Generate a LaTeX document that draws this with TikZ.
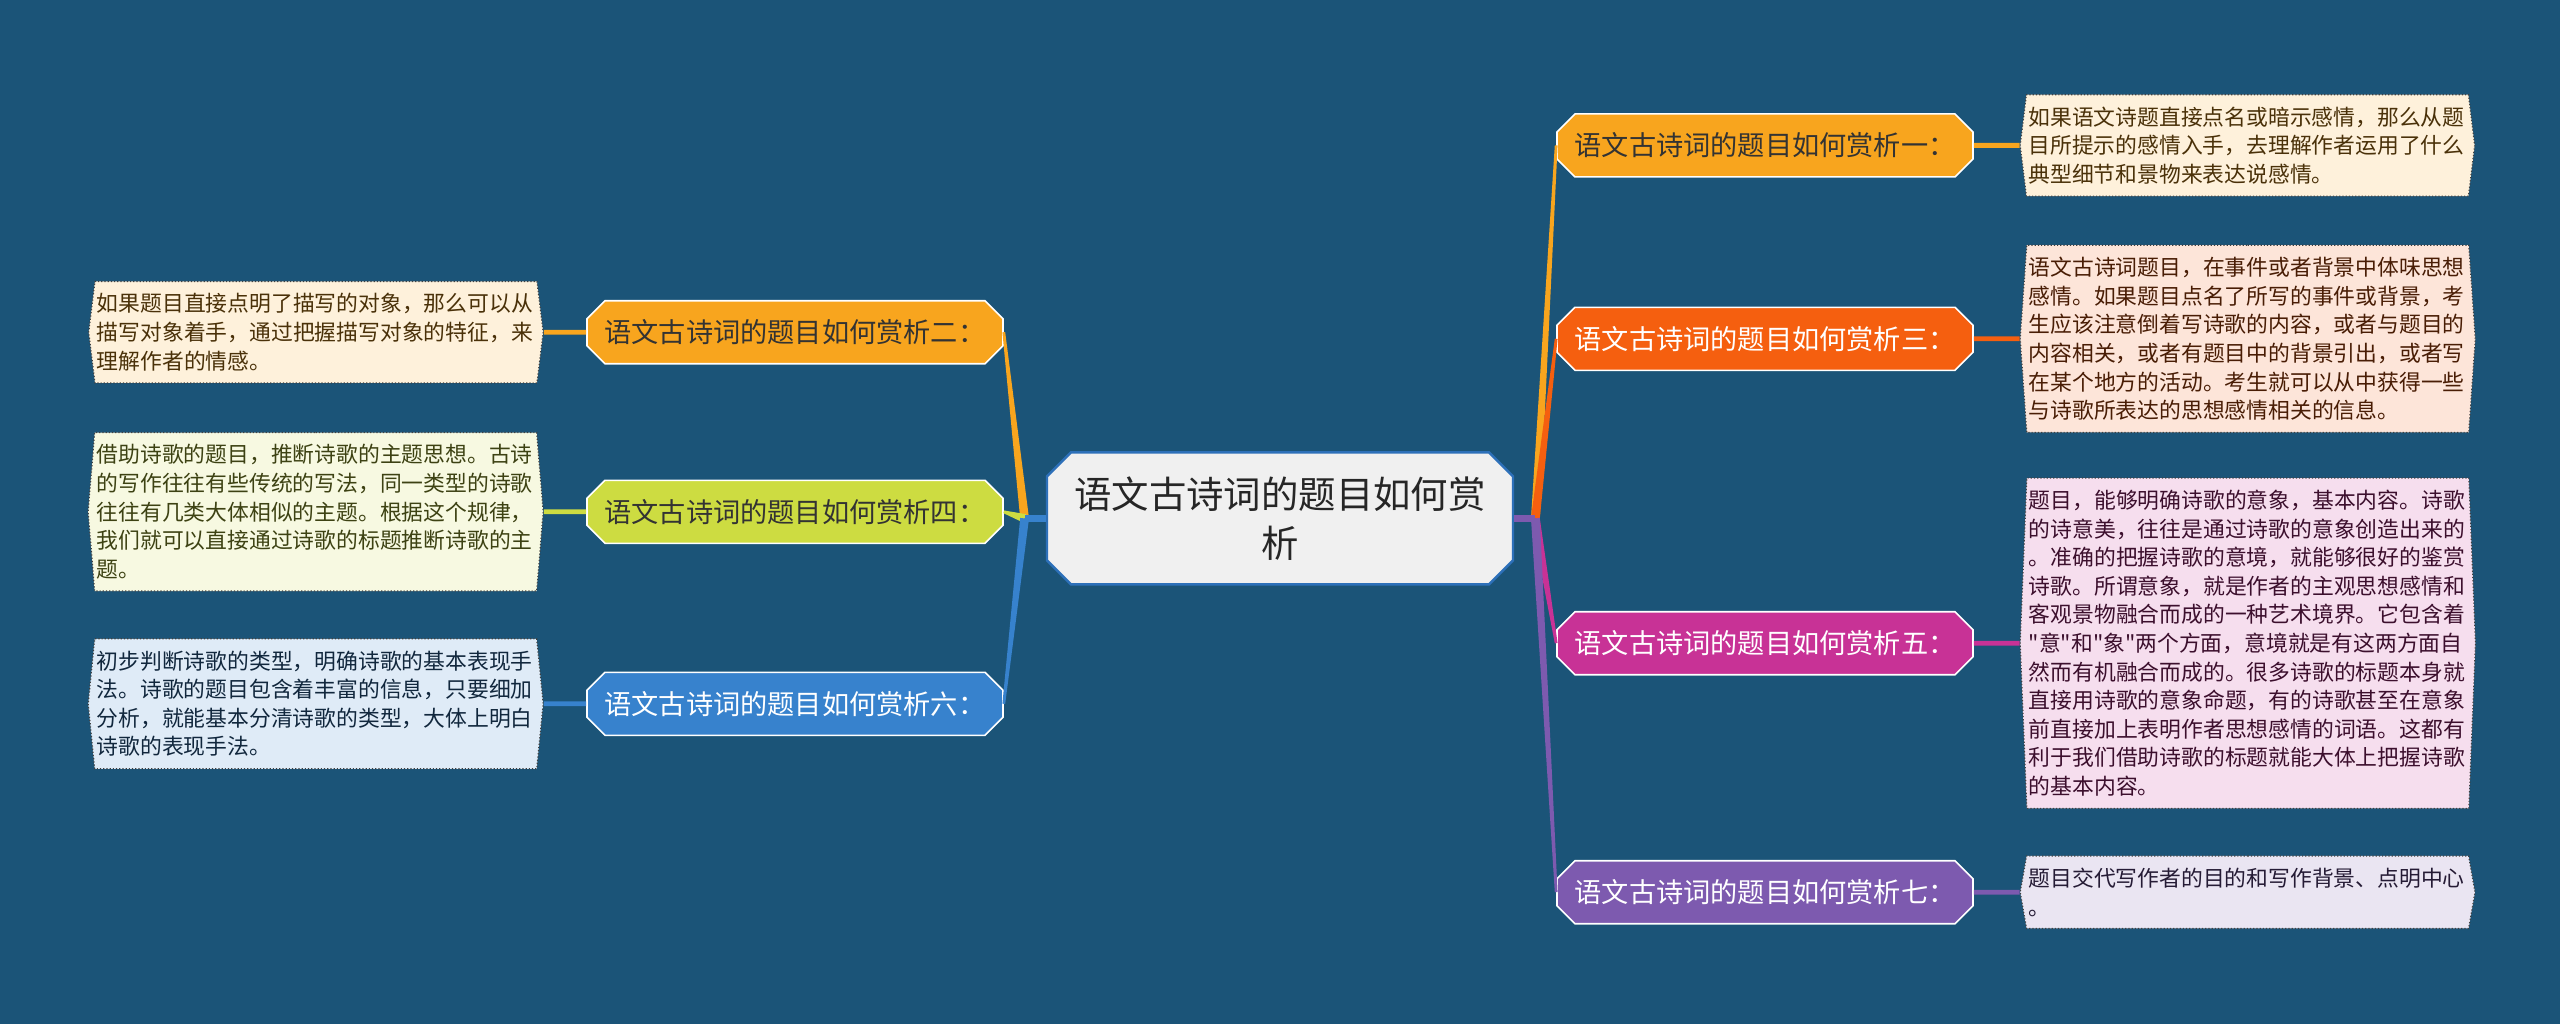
\documentclass[tikz,border=0pt]{standalone}
\usepackage{fontspec}
\setmainfont{Noto Sans CJK SC}
\newfontfamily\plaincjk{Noto Sans CJK SC}
\usepackage{tikz}
\usetikzlibrary{calc,positioning,shapes.misc,shapes.symbols}
\definecolor{pagebg}{RGB}{27,84,120}
\definecolor{hubfill}{RGB}{240,240,240}
\definecolor{hubdraw}{RGB}{45,112,185}
\definecolor{amber}{RGB}{248,165,30}
\definecolor{flame}{RGB}{245,95,15}
\definecolor{orchid}{RGB}{200,50,150}
\definecolor{grape}{RGB}{125,90,175}
\definecolor{citron}{RGB}{205,220,65}
\definecolor{azure}{RGB}{55,130,205}
\newcommand{\HubFont}{\fontsize{18.7}{24.5}\selectfont}
\newcommand{\BranchFont}{\fontsize{13.6}{16}\selectfont}
\newcommand{\NoteFont}{\plaincjk\fontsize{10.9}{14.3}\selectfont}
\tikzset{
  hub/.style={chamfered rectangle, chamfered rectangle sep=6pt, fill=hubfill, draw=hubdraw, line width=1.2pt, minimum width=233pt, minimum height=66pt, align=center, font=\HubFont, text=black!85},
  branch/.style={chamfered rectangle, chamfered rectangle sep=4.5pt, fill=#1, draw=white, line width=0.8pt, minimum width=208pt, minimum height=31.5pt, font=\BranchFont, inner sep=0pt},
  note/.style={signal, signal to=east and west, fill=#1!16, draw=black!75, densely dotted, line width=0.6pt, text width=219pt, align=left, font=\NoteFont, text=#1!30!black, inner xsep=1pt, inner ysep=6pt},
  twig/.style={draw=#1, line width=2.4pt},
  stub/.style={draw=#1, line width=3.5pt}
}

\begin{document}
\begin{tikzpicture}
  \fill[pagebg, use as bounding box] (-640pt,-252.6pt) rectangle (640pt,259.2pt);
  \node[hub] (hub) at (0,0) {语文古诗词的题目如何赏\\析};
  % right side
  \node[branch=amber, text=black!80] (b1) at (242.5pt,186.5pt) {语文古诗词的题目如何赏析一：};
  \node[branch=flame, text=white] (b3) at (242.5pt,89.8pt) {语文古诗词的题目如何赏析三：};
  \node[branch=orchid, text=white] (b5) at (242.5pt,-62.4pt) {语文古诗词的题目如何赏析五：};
  \node[branch=grape, text=white] (b7) at (242.5pt,-186.9pt) {语文古诗词的题目如何赏析七：};
  % left side
  \node[branch=amber, text=black!80] (b2) at (-242.5pt,93.1pt) {语文古诗词的题目如何赏析二：};
  \node[branch=citron, text=black!80] (b4) at (-242.5pt,3.3pt) {语文古诗词的题目如何赏析四：};
  \node[branch=azure, text=white] (b6) at (-242.5pt,-92.7pt) {语文古诗词的题目如何赏析六：};
  % notes
  \node[note=amber, signal pointer angle=166, right=22.9pt of b1] (n1) {如果语文诗题直接点名或暗示感情，那么从题\\目所提示的感情入手，去理解作者运用了什么\\典型细节和景物来表达说感情。};
  \node[note=flame, signal pointer angle=172, right=22.9pt of b3] (n3) {语文古诗词题目，在事件或者背景中体味思想\\感情。如果题目点名了所写的事件或背景，考\\生应该注意倒着写诗歌的内容，或者与题目的\\内容相关，或者有题目中的背景引出，或者写\\在某个地方的活动。考生就可以从中获得一些\\与诗歌所表达的思想感情相关的信息。};
  \node[note=orchid, signal pointer angle=175.4, right=22.9pt of b5] (n5) {题目，能够明确诗歌的意象，基本内容。诗歌\\的诗意美，往往是通过诗歌的意象创造出来的\\。准确的把握诗歌的意境，就能够很好的鉴赏\\诗歌。所谓意象，就是作者的主观思想感情和\\客观景物融合而成的一种艺术境界。它包含着\\"意"和"象"两个方面，意境就是有这两方面自\\然而有机融合而成的。很多诗歌的标题本身就\\直接用诗歌的意象命题，有的诗歌甚至在意象\\前直接加上表明作者思想感情的词语。这都有\\利于我们借助诗歌的标题就能大体上把握诗歌\\的基本内容。};
  \node[note=grape, signal pointer angle=160, right=22.9pt of b7] (n7) {题目交代写作者的目的和写作背景、点明中心\\。};
  \node[note=amber, signal pointer angle=166, left=21.2pt of b2] (n2) {如果题目直接点明了描写的对象，那么可以从\\描写对象着手，通过把握描写对象的特征，来\\理解作者的情感。};
  \node[note=citron, signal pointer angle=170.6, left=21.2pt of b4] (n4) {借助诗歌的题目，推断诗歌的主题思想。古诗\\的写作往往有些传统的写法，同一类型的诗歌\\往往有几类大体相似的主题。根据这个规律，\\我们就可以直接通过诗歌的标题推断诗歌的主\\题。};
  \node[note=azure, signal pointer angle=168.6, left=21.2pt of b6] (n6) {初步判断诗歌的类型，明确诗歌的基本表现手\\法。诗歌的题目包含着丰富的信息，只要细加\\分析，就能基本分清诗歌的类型，大体上明白\\诗歌的表现手法。};
  \coordinate (hubR) at ($(hub.east)+(10.6pt,0)$);
  \coordinate (hubL) at ($(hub.west)+(-10.6pt,0)$);
  % tapered fans
  \fill[amber] ($(hubR)!2.2pt!90:(b1.west)$) -- ($(b1.west)!0.7pt!-90:(hubR)$) -- ($(b1.west)!0.7pt!90:(hubR)$) -- ($(hubR)!2.2pt!-90:(b1.west)$) -- cycle;
  \fill[flame] ($(hubR)!2.2pt!90:(b3.west)$) -- ($(b3.west)!0.7pt!-90:(hubR)$) -- ($(b3.west)!0.7pt!90:(hubR)$) -- ($(hubR)!2.2pt!-90:(b3.west)$) -- cycle;
  \fill[orchid] ($(hubR)!2.2pt!90:(b5.west)$) -- ($(b5.west)!0.7pt!-90:(hubR)$) -- ($(b5.west)!0.7pt!90:(hubR)$) -- ($(hubR)!2.2pt!-90:(b5.west)$) -- cycle;
  \fill[grape] ($(hubR)!2.2pt!90:(b7.west)$) -- ($(b7.west)!0.7pt!-90:(hubR)$) -- ($(b7.west)!0.7pt!90:(hubR)$) -- ($(hubR)!2.2pt!-90:(b7.west)$) -- cycle;
  \fill[amber] ($(hubL)!2.2pt!90:(b2.east)$) -- ($(b2.east)!0.7pt!-90:(hubL)$) -- ($(b2.east)!0.7pt!90:(hubL)$) -- ($(hubL)!2.2pt!-90:(b2.east)$) -- cycle;
  \fill[citron] ($(hubL)!2.2pt!90:(b4.east)$) -- ($(b4.east)!0.7pt!-90:(hubL)$) -- ($(b4.east)!0.7pt!90:(hubL)$) -- ($(hubL)!2.2pt!-90:(b4.east)$) -- cycle;
  \fill[azure] ($(hubL)!2.2pt!90:(b6.east)$) -- ($(b6.east)!0.7pt!-90:(hubL)$) -- ($(b6.east)!0.7pt!90:(hubL)$) -- ($(hubL)!2.2pt!-90:(b6.east)$) -- cycle;
  \draw[stub=grape] (hub.east) -- (hubR); \draw[stub=azure] (hub.west) -- (hubL);
  \draw[twig=amber] (b1) -- (n1); \draw[twig=flame] (b3) -- (n3); \draw[twig=orchid] (b5) -- (n5); \draw[twig=grape] (b7) -- (n7);
  \draw[twig=amber] (b2) -- (n2); \draw[twig=citron] (b4) -- (n4); \draw[twig=azure] (b6) -- (n6);
\end{tikzpicture}
\end{document}
